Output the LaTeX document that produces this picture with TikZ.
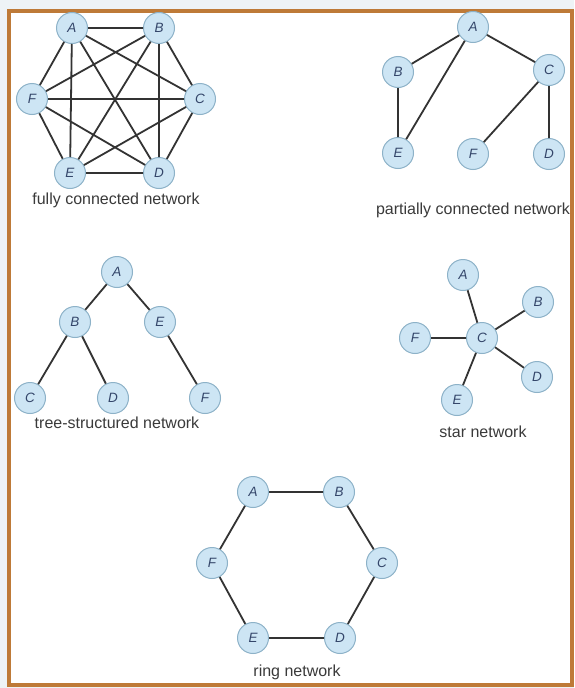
\documentclass[tikz,border=0pt]{standalone}
\usepackage{fontspec}
\setmainfont{Liberation Sans}
\usetikzlibrary{positioning}

\definecolor{hostfill}{HTML}{CDE5F4}
\definecolor{hostline}{HTML}{8DB2C8}
\definecolor{hosttext}{HTML}{34466A}
\definecolor{linkcol}{HTML}{333333}
\definecolor{captext}{HTML}{3A3A3A}
\definecolor{framecol}{HTML}{BE7A38}
\definecolor{outside}{HTML}{EEF3F6}

\tikzset{
  host/.style={circle, draw=hostline, fill=hostfill, line width=1pt,
    minimum size=31pt, inner sep=0pt, text=hosttext,
    font=\fontsize{13.5}{13.5}\selectfont\itshape},
  link/.style={draw=linkcol, line width=1.8pt},
  caption/.style={text=captext, font=\fontsize{16}{16}\selectfont},
}

\begin{document}
\begin{tikzpicture}[x=1pt,y=-1pt]
\fill[outside] (0,0) rectangle (574,688);
\fill[white] (9,11) rectangle (572,685);
\useasboundingbox (0,0) rectangle (574,688);
\draw[framecol, line width=3.5pt] (9,11) rectangle (572,685);

% fully connected
\node[host] (fA) at (72,28) {A};
\path (fA) ++ (87,0) node[host] (fB) {B};
\path (fA) ++ (-40,71) node[host] (fF) {F};
\path (fB) ++ (41,71) node[host] (fC) {C};
\path (fA) ++ (-2,145) node[host] (fE) {E};
\path (fB) ++ (0,145) node[host] (fD) {D};
\node[caption] (fcap) at (116,200) {fully connected network};
\draw[link] (fA) -- (fB) (fA) -- (fC) (fA) -- (fD) (fA) -- (fE) (fA) -- (fF)
  (fB) -- (fC) (fB) -- (fD) (fB) -- (fE) (fB) -- (fF)
  (fC) -- (fD) (fC) -- (fE) (fC) -- (fF)
  (fD) -- (fE) (fD) -- (fF)
  (fE) -- (fF);

% partially connected
\node[host] (pA) at (473,27) {A};
\path (pA) ++ (-75,45) node[host] (pB) {B};
\path (pA) ++ (76,43) node[host] (pC) {C};
\path (pB) ++ (0,81) node[host] (pE) {E};
\path (pA) ++ (0,127) node[host] (pF) {F};
\path (pC) ++ (0,84) node[host] (pD) {D};
\node[caption] (pcap) at (473,210) {partially connected network};
\draw[link] (pA) -- (pB) (pA) -- (pE) (pA) -- (pC)
  (pB) -- (pE) (pC) -- (pF) (pC) -- (pD);

% tree
\node[host] (tA) at (117,272) {A};
\path (tA) ++ (-42,50) node[host] (tB) {B};
\path (tA) ++ (43,50) node[host] (tE) {E};
\path (tB) ++ (-45,76) node[host] (tC) {C};
\path (tB) ++ (38,76) node[host] (tD) {D};
\path (tE) ++ (45,76) node[host] (tF) {F};
\node[caption] (tcap) at (117,423) {tree-structured network};
\draw[link] (tA) -- (tB) (tA) -- (tE) (tB) -- (tC) (tB) -- (tD) (tE) -- (tF);

% star
\node[host] (sC) at (482,338) {C};
\path (sC) ++ (-19,-63) node[host] (sA) {A};
\path (sC) ++ (56,-36) node[host] (sB) {B};
\path (sC) ++ (-67,0) node[host] (sF) {F};
\path (sC) ++ (55,39) node[host] (sD) {D};
\path (sC) ++ (-25,62) node[host] (sE) {E};
\node[caption] (scap) at (483,432) {star network};
\draw[link] (sC) -- (sA) (sC) -- (sB) (sC) -- (sD) (sC) -- (sE) (sC) -- (sF);

% ring
\node[host] (rA) at (253,492) {A};
\path (rA) ++ (86,0) node[host] (rB) {B};
\path (rA) ++ (-41,71) node[host] (rF) {F};
\path (rB) ++ (43,71) node[host] (rC) {C};
\path (rA) ++ (0,146) node[host] (rE) {E};
\path (rB) ++ (1,146) node[host] (rD) {D};
\node[caption] (rcap) at (297,672) {ring network};
\draw[link] (rA) -- (rB) -- (rC) -- (rD) -- (rE) -- (rF) -- (rA);
\end{tikzpicture}
\end{document}
